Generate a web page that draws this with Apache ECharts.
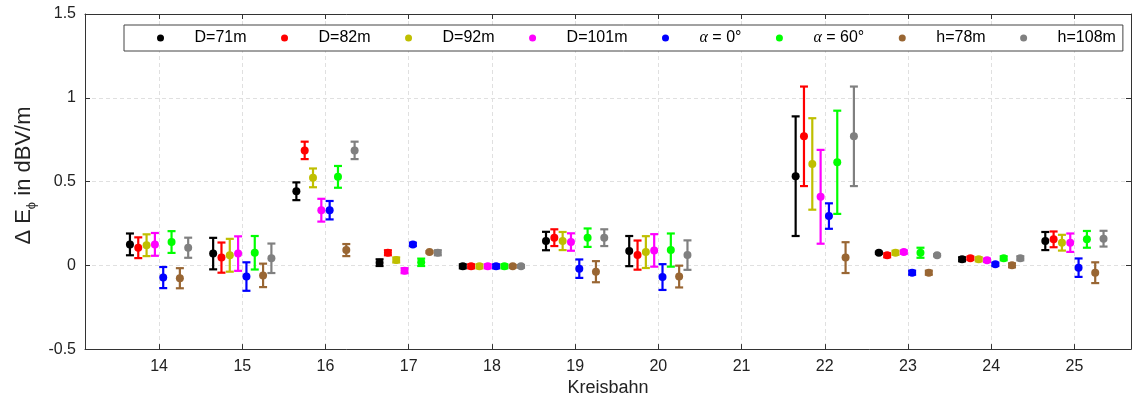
<!DOCTYPE html>
<html>
<head>
<meta charset="utf-8">
<script src="https://cdn.jsdelivr.net/npm/echarts@6/dist/echarts.min.js"></script>
<style>
html,body{margin:0;padding:0;background:#fff;}
#chart{width:1134px;height:402px;}
</style>
</head>
<body>
<div id="chart"></div>
<script>
// Kreisbahn categories (21 has no data)
const categories = [14, 15, 16, 17, 18, 19, 20, 21, 22, 23, 24, 25];
const yTicks = [-0.5, 0, 0.5, 1, 1.5];

const seriesNames = ['D=71m', 'D=82m', 'D=92m', 'D=101m', 'α = 0°', 'α = 60°', 'h=78m', 'h=108m'];
const seriesColors = ['#000000', '#ff0000', '#bfbf00', '#ff00ff', '#0000ff', '#00ff00', '#996633', '#808080'];
const seriesOffsets = [-0.35, -0.25, -0.15, -0.05, 0.05, 0.15, 0.25, 0.35];

const mean_D71  = [0.125, 0.070, 0.442, 0.016, -0.006, 0.145, 0.085, null, 0.532, 0.075, 0.036, 0.145];
const err_D71   = [0.065, 0.094, 0.053, 0.020, 0.012, 0.055, 0.090, null, 0.357, 0.006, 0.012, 0.054];
const mean_D82  = [0.105, 0.046, 0.686, 0.075, -0.006, 0.165, 0.061, null, 0.770, 0.060, 0.042, 0.155];
const err_D82   = [0.062, 0.090, 0.052, 0.015, 0.012, 0.050, 0.087, null, 0.297, 0.012, 0.010, 0.047];
const mean_D92  = [0.120, 0.060, 0.522, 0.032, -0.006, 0.145, 0.079, null, 0.605, 0.075, 0.036, 0.135];
const err_D92   = [0.065, 0.098, 0.056, 0.015, 0.012, 0.054, 0.095, null, 0.273, 0.012, 0.012, 0.047];
const mean_D101 = [0.125, 0.070, 0.329, -0.032, -0.006, 0.139, 0.089, null, 0.409, 0.079, 0.030, 0.135];
const err_D101  = [0.068, 0.103, 0.068, 0.015, 0.012, 0.052, 0.097, null, 0.280, 0.010, 0.010, 0.055];
const mean_A0   = [-0.073, -0.067, 0.329, 0.125, -0.006, -0.020, -0.070, null, 0.294, -0.044, 0.006, -0.014];
const err_A0    = [0.063, 0.085, 0.055, 0.010, 0.012, 0.055, 0.077, null, 0.076, 0.012, 0.010, 0.055];
const mean_A60  = [0.139, 0.075, 0.528, 0.018, -0.006, 0.165, 0.091, null, 0.615, 0.075, 0.042, 0.155];
const err_A60   = [0.065, 0.100, 0.065, 0.022, 0.012, 0.055, 0.099, null, 0.308, 0.030, 0.012, 0.050];
const mean_H78  = [-0.077, -0.060, 0.091, 0.079, -0.006, -0.038, -0.067, null, 0.046, -0.044, 0.000, -0.044];
const err_H78   = [0.060, 0.070, 0.036, 0.006, 0.008, 0.063, 0.065, null, 0.092, 0.012, 0.012, 0.062];
const mean_H108 = [0.105, 0.042, 0.686, 0.075, -0.006, 0.165, 0.061, null, 0.770, 0.060, 0.042, 0.159];
const err_H108  = [0.060, 0.088, 0.052, 0.015, 0.008, 0.050, 0.088, null, 0.297, 0.006, 0.012, 0.047];

const allMeans = [mean_D71, mean_D82, mean_D92, mean_D101, mean_A0, mean_A60, mean_H78, mean_H108];
const allErrs  = [err_D71, err_D82, err_D92, err_D101, err_A0, err_A60, err_H78, err_H108];

const FONT = 'Arial, "Liberation Sans", Helvetica, sans-serif';

const series = [];
seriesNames.forEach(function (name, si) {
  const barData = [];
  const ptData = [];
  categories.forEach(function (c, ci) {
    const m = allMeans[si][ci];
    const e = allErrs[si][ci];
    if (m === null || m === undefined) return;
    const x = c + seriesOffsets[si];
    barData.push([x, m - e, m + e]);
    ptData.push([x, m]);
  });
  const color = seriesColors[si];
  series.push({
    type: 'custom',
    name: name + ' (err)',
    silent: true,
    z: 2 + si * 2,
    itemStyle: { color: color },
    renderItem: function (params, api) {
      const x = api.value(0);
      const lo = api.coord([x, api.value(1)]);
      const hi = api.coord([x, api.value(2)]);
      const hw = 4;
      const st = { stroke: color, lineWidth: 2.2, fill: null };
      return {
        type: 'group',
        children: [
          { type: 'line', shape: { x1: lo[0], y1: lo[1], x2: hi[0], y2: hi[1] }, style: st },
          { type: 'line', shape: { x1: lo[0] - hw, y1: lo[1], x2: lo[0] + hw, y2: lo[1] }, style: st },
          { type: 'line', shape: { x1: hi[0] - hw, y1: hi[1], x2: hi[0] + hw, y2: hi[1] }, style: st }
        ]
      };
    },
    encode: { x: 0, y: [1, 2] },
    data: barData
  });
  series.push({
    type: 'scatter',
    name: name,
    symbol: 'circle',
    symbolSize: 8,
    z: 3 + si * 2,
    itemStyle: { color: color, opacity: 1 },
    data: ptData
  });
});

const chart = echarts.init(document.getElementById('chart'), null, { renderer: 'canvas' });
chart.setOption({
  animation: false,
  backgroundColor: '#ffffff',
  grid: { left: 85, right: 3, top: 14, bottom: 52, containLabel: false },
  legend: {
    data: seriesNames.map(function (n, i) { return { name: n, icon: 'circle', itemStyle: { color: seriesColors[i] } }; }),
    left: 124,
    top: 25,
    orient: 'horizontal',
    itemWidth: 7,
    itemHeight: 7,
    itemGap: 34.5,
    padding: [5, 7, 5, 33],
    borderColor: '#444',
    borderWidth: 1,
    borderRadius: 0,
    backgroundColor: '#ffffff',
    selectedMode: false,
    formatter: function (n) {
      if (n.indexOf('α') === 0) return '{g|α}' + n.slice(1);
      return n;
    },
    textStyle: {
      fontFamily: FONT,
      fontSize: 16,
      color: '#000',
      padding: [0, 0, 0, 25.5],
      rich: {
        g: { fontFamily: '"Liberation Serif", "DejaVu Serif", serif', fontStyle: 'italic', fontSize: 16, color: '#000' }
      }
    }
  },
  xAxis: [{
    type: 'value',
    min: 13.11,
    max: 25.68,
    name: 'Kreisbahn',
    nameLocation: 'middle',
    nameGap: 26,
    nameTextStyle: { fontFamily: FONT, fontSize: 18, color: '#222' },
    axisLine: { show: true, onZero: false, lineStyle: { color: '#333', width: 1 } },
    axisTick: { show: true, inside: true, length: 5, customValues: categories, lineStyle: { color: '#333' } },
    axisLabel: { customValues: categories, fontFamily: FONT, fontSize: 16, color: '#222', margin: 9 },
    splitLine: { show: true, lineStyle: { color: '#e0e0e0', type: [4, 3], width: 1 } }
  }, {
    type: 'value',
    position: 'top',
    min: 13.11,
    max: 25.68,
    axisLine: { show: true, onZero: false, lineStyle: { color: '#333', width: 1 } },
    axisTick: { show: true, inside: true, length: 5, customValues: categories, lineStyle: { color: '#333' } },
    axisLabel: { show: false },
    splitLine: { show: false }
  }],
  yAxis: [{
    type: 'value',
    min: -0.5,
    max: 1.5,
    interval: 0.5,
    name: 'Δ E{sub|ϕ} in dBV/m',
    nameLocation: 'middle',
    nameGap: 43,
    nameRotate: 90,
    nameTextStyle: {
      fontFamily: FONT, fontSize: 22, color: '#222',
      padding: [0, 0, 0, 12],
      rich: { sub: { fontFamily: FONT, fontSize: 13, color: '#222', padding: [14, 0, 0, 0] } }
    },
    axisLine: { show: true, onZero: false, lineStyle: { color: '#333', width: 1 } },
    axisTick: { show: true, inside: true, length: 5, lineStyle: { color: '#333' } },
    axisLabel: { fontFamily: FONT, fontSize: 16, color: '#222', margin: 9 },
    splitLine: { show: true, lineStyle: { color: '#e0e0e0', type: [4, 3], width: 1 } }
  }, {
    type: 'value',
    position: 'right',
    min: -0.5,
    max: 1.5,
    interval: 0.5,
    axisLine: { show: true, onZero: false, lineStyle: { color: '#333', width: 1 } },
    axisTick: { show: true, inside: true, length: 5, lineStyle: { color: '#333' } },
    axisLabel: { show: false },
    splitLine: { show: false }
  }],
  series: series
});
</script>
</body>
</html>
